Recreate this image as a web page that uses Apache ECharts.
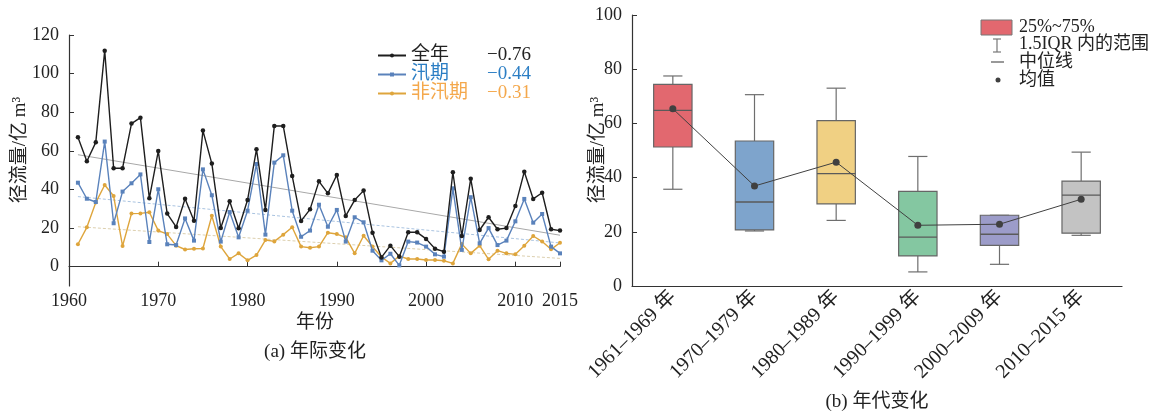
<!DOCTYPE html>
<html><head><meta charset="utf-8">
<script src="https://cdn.jsdelivr.net/npm/echarts@6/dist/echarts.min.js"></script>
<style>html,body{margin:0;padding:0;background:#fff}#c{width:1167px;height:413px}</style>
</head><body><div id="c"></div>
<script>
const years = [1961,1962,1963,1964,1965,1966,1967,1968,1969,1970,1971,1972,1973,1974,1975,1976,1977,1978,1979,1980,1981,1982,1983,1984,1985,1986,1987,1988,1989,1990,1991,1992,1993,1994,1995,1996,1997,1998,1999,2000,2001,2002,2003,2004,2005,2006,2007,2008,2009,2010,2011,2012,2013,2014,2015];
const annual = [67.0,54.6,64.4,111.9,51.0,51.0,74.1,77.2,35.4,59.9,27.5,20.6,35.2,23.8,70.5,53.4,20.0,33.9,19.9,34.5,60.8,29.4,72.9,72.9,47.0,23.7,29.7,44.2,38.0,47.5,26.3,34.5,39.4,17.6,4.8,10.9,5.2,17.8,17.8,14.4,9.3,7.8,48.9,15.9,45.6,19.0,25.6,19.4,20.0,31.4,49.2,35.1,38.3,19.4,18.7];
const flood = [43.5,35.2,33.5,64.8,22.5,38.9,43.2,47.8,12.8,40.1,11.6,11.2,25.0,13.5,50.4,37.0,13.0,28.3,15.2,29.0,53.2,16.6,53.9,57.7,29.0,15.5,18.7,32.1,20.7,29.4,13.0,25.6,23.0,8.3,3.3,6.7,0.7,13.0,12.5,10.4,6.4,5.2,40.6,8.7,36.0,12.1,20.0,11.2,13.5,23.5,35.1,22.8,27.3,10.4,6.9];
const nonFlood = [11.6,20.4,33.2,42.3,36.6,10.7,27.5,27.6,28.2,18.7,16.9,10.9,8.9,9.3,9.4,26.4,10.4,4.0,6.9,3.3,6.0,13.8,13.1,16.6,20.4,10.4,9.8,10.4,17.6,16.9,15.2,6.9,16.0,10.4,5.0,1.7,5.5,4.0,4.0,3.5,3.5,3.1,1.7,11.8,6.9,10.9,3.8,8.3,6.9,6.4,10.9,15.9,13.0,9.0,12.4];
const seriesNames = ['全年','汛期','非汛期'];
const trendCoef = ['−0.76','−0.44','−0.31'];
const trendYears = [1961, 2015];
const trendAnnual = [58.0, 16.3];
const trendFlood = [36.3, 12.3];
const trendNonFlood = [20.7, 4.3];
const leftXTicks = [1960,1970,1980,1990,2000,2010,2015];
const leftYTicks = [0,20,40,60,80,100,120];

const decades = ['1961–1969 年','1970–1979 年','1980–1989 年','1990–1999 年','2000–2009 年','2010–2015 年'];
// [low whisker, Q1, median, Q3, high whisker]
const boxStats = [
  [35.7,51.3,64.8,74.4,77.5],
  [20.3,20.7,31.0,53.5,70.6],
  [24.2,30.3,41.5,61.0,73.0],
  [5.2,11.1,18.0,34.9,47.8],
  [8.0,15.0,19.1,26.1,26.1],
  [18.7,19.5,33.5,38.7,49.4]
];
const decadeMeans = [65.4,36.9,45.7,22.4,22.8,32.0];
const legendB = ['25%~75%','1.5IQR 内的范围','中位线','均值'];

const FONT = "'Liberation Serif','Noto Sans CJK SC',serif";
const lineColors = ['#1e1e1e','#5a82bb','#dea53c'];
const textColors = ['#222222','#2b7ec4','#f4a84c'];
const boxColors = ['#e2686f','#7ea4cc','#f0d083','#84c7a1','#9c9cc9','#c3c3c3'];

const chart = echarts.init(document.getElementById('c'));
const pair = (xs, ys) => xs.map((x,i)=>[x, ys[i]]);

const option = {
  animation: false,
  grid: [
    {left: 69, right: 607, top: 35, bottom: 127},
    {left: 632, right: 45, top: 15, bottom: 127}
  ],
  xAxis: [
    {type:'value', gridIndex:0, min:1960, max:2015, interval:10,
     axisLine:{lineStyle:{color:'#333', width:1.2}},
     axisTick:{inside:true, length:5, customValues:leftXTicks, lineStyle:{color:'#333'}},
     axisLabel:{customValues:leftXTicks, formatter: v => String(v), color:'#222', fontSize:18, fontFamily:FONT, margin:6},
     splitLine:{show:false}},
    {type:'category', gridIndex:1, data:decades, boundaryGap:true,
     axisLine:{lineStyle:{color:'#333', width:1.2}},
     axisTick:{inside:true, alignWithLabel:true, length:5, lineStyle:{color:'#333'}},
     axisLabel:{rotate:45, color:'#222', fontSize:20, fontFamily:FONT, margin:8, interval:0},
     splitLine:{show:false}}
  ],
  yAxis: [
    {type:'value', gridIndex:0, min:-10, max:120,
     axisLine:{show:true, lineStyle:{color:'#333', width:1.2}},
     axisTick:{show:true, inside:true, length:5, customValues:leftYTicks, lineStyle:{color:'#333'}},
     axisLabel:{customValues:leftYTicks, color:'#222', fontSize:18, fontFamily:FONT, margin:10},
     splitLine:{show:false}},
    {type:'value', gridIndex:1, min:0, max:100, interval:20,
     axisLine:{show:true, lineStyle:{color:'#333', width:1.2}},
     axisTick:{show:true, inside:true, length:5, lineStyle:{color:'#333'}},
     axisLabel:{color:'#222', fontSize:18, fontFamily:FONT, margin:10},
     splitLine:{show:false}}
  ],
  legend: {
    orient:'vertical', left:372, top:41, itemGap:0, itemWidth:28, itemHeight:5,
    data: seriesNames.map((n,i)=>({name:n, textStyle:{color:textColors[i]}})),
    formatter: name => {
      const i = seriesNames.indexOf(name);
      return '{n|'+name+'}{v|'+trendCoef[i]+'}';
    },
    textStyle:{fontFamily:FONT, fontSize:19,
      rich:{n:{width:72, fontSize:19, lineHeight:18, fontFamily:FONT}, v:{width:48, align:'right', fontSize:19, lineHeight:18, fontFamily:FONT}}}
  },
  series: [
    {type:'line', name:'全年_trend', xAxisIndex:0, yAxisIndex:0, data:pair(trendYears,trendAnnual),
     symbol:'none', silent:true, lineStyle:{color:'#a8a8a8', width:1}, z:1},
    {type:'line', name:'汛期_trend', xAxisIndex:0, yAxisIndex:0, data:pair(trendYears,trendFlood),
     symbol:'none', silent:true, lineStyle:{color:'#a9c3e0', width:1, type:[3,2]}, z:1},
    {type:'line', name:'非汛期_trend', xAxisIndex:0, yAxisIndex:0, data:pair(trendYears,trendNonFlood),
     symbol:'none', silent:true, lineStyle:{color:'#dccfae', width:1, type:[3,2]}, z:1},
    {type:'line', name:'非汛期', xAxisIndex:0, yAxisIndex:0, data:pair(years,nonFlood),
     symbol:'circle', symbolSize:4, lineStyle:{color:lineColors[2], width:1.4}, itemStyle:{color:lineColors[2]}, z:3},
    {type:'line', name:'汛期', xAxisIndex:0, yAxisIndex:0, data:pair(years,flood),
     symbol:'rect', symbolSize:4, lineStyle:{color:lineColors[1], width:1.4}, itemStyle:{color:lineColors[1]}, z:4},
    {type:'line', name:'全年', xAxisIndex:0, yAxisIndex:0, data:pair(years,annual),
     symbol:'circle', symbolSize:4.5, lineStyle:{color:lineColors[0], width:1.4}, itemStyle:{color:lineColors[0]}, z:5},
    {type:'custom', xAxisIndex:1, yAxisIndex:1,
     data: boxStats.map((s,i)=>[i].concat(s)),
     renderItem: (params, api) => {
       const x = api.value(0);
       const pLow = api.coord([x, api.value(1)]);
       const pQ1 = api.coord([x, api.value(2)]);
       const pMed = api.coord([x, api.value(3)]);
       const pQ3 = api.coord([x, api.value(4)]);
       const pHigh = api.coord([x, api.value(5)]);
       const bw = api.size([1,0])[0]*0.47;
       const cx = pMed[0];
       const cap = bw*0.5;
       const ls = {stroke:'#6e6e6e', lineWidth:1.2};
       return {type:'group', children:[
         {type:'line', shape:{x1:cx,y1:pQ3[1],x2:cx,y2:pHigh[1]}, style:ls},
         {type:'line', shape:{x1:cx,y1:pQ1[1],x2:cx,y2:pLow[1]}, style:ls},
         {type:'line', shape:{x1:cx-cap/2,y1:pHigh[1],x2:cx+cap/2,y2:pHigh[1]}, style:ls},
         {type:'line', shape:{x1:cx-cap/2,y1:pLow[1],x2:cx+cap/2,y2:pLow[1]}, style:ls},
         {type:'rect', shape:{x:cx-bw/2, y:pQ3[1], width:bw, height:pQ1[1]-pQ3[1]},
          style:{fill:boxColors[params.dataIndex], stroke:'#666', lineWidth:1.2}},
         {type:'line', shape:{x1:cx-bw/2,y1:pMed[1],x2:cx+bw/2,y2:pMed[1]}, style:{stroke:'#5a5a5a', lineWidth:1.3}}
       ]};
     }, z:2},
    {type:'line', xAxisIndex:1, yAxisIndex:1, data:decadeMeans, symbol:'circle', symbolSize:7,
     lineStyle:{color:'#404040', width:1}, itemStyle:{color:'#404040'}, z:6}
  ],
  graphic: [
    {type:'text', x:20, y:150, rotation:Math.PI/2, style:{text:'径流量/亿 m³', fontSize:19, fontFamily:FONT, fill:'#222', align:'center', verticalAlign:'middle'}},
    {type:'text', x:315, y:323, style:{text:'年份', fontSize:19, fontFamily:FONT, fill:'#222', align:'center', verticalAlign:'middle'}},
    {type:'text', x:315, y:352, style:{text:'(a) 年际变化', fontSize:19, fontFamily:FONT, fill:'#222', align:'center', verticalAlign:'middle'}},
    {type:'text', x:598, y:150, rotation:Math.PI/2, style:{text:'径流量/亿 m³', fontSize:19, fontFamily:FONT, fill:'#222', align:'center', verticalAlign:'middle'}},
    {type:'text', x:877, y:402, style:{text:'(b) 年代变化', fontSize:19, fontFamily:FONT, fill:'#222', align:'center', verticalAlign:'middle'}},
    {type:'rect', shape:{x:981, y:20, width:31, height:15}, style:{fill:boxColors[0], stroke:'#777', lineWidth:1}},
    {type:'line', shape:{x1:997, y1:39, x2:997, y2:52}, style:{stroke:'#777', lineWidth:1.2}},
    {type:'line', shape:{x1:993, y1:39, x2:1001, y2:39}, style:{stroke:'#777', lineWidth:1.2}},
    {type:'line', shape:{x1:993, y1:52, x2:1001, y2:52}, style:{stroke:'#777', lineWidth:1.2}},
    {type:'line', shape:{x1:991, y1:62, x2:1004, y2:62}, style:{stroke:'#555', lineWidth:1.2}},
    {type:'circle', shape:{cx:998, cy:80, r:2.5}, style:{fill:'#404040'}},
    {type:'text', x:1019, y:27, style:{text:legendB[0], fontSize:18, fontFamily:FONT, fill:'#222', verticalAlign:'middle'}},
    {type:'text', x:1019, y:44, style:{text:legendB[1], fontSize:18, fontFamily:FONT, fill:'#222', verticalAlign:'middle'}},
    {type:'text', x:1019, y:62, style:{text:legendB[2], fontSize:18, fontFamily:FONT, fill:'#222', verticalAlign:'middle'}},
    {type:'text', x:1019, y:80, style:{text:legendB[3], fontSize:18, fontFamily:FONT, fill:'#222', verticalAlign:'middle'}}
  ]
};
chart.setOption(option);
</script></body></html>
